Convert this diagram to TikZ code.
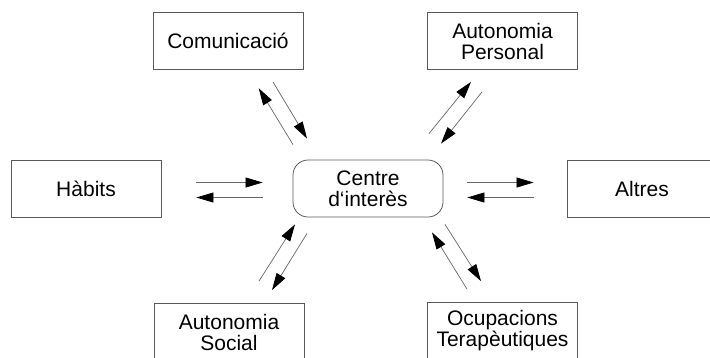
\documentclass[tikz,border=0pt]{standalone}
\usepackage{fontspec}
\setmainfont{Liberation Sans}
\usetikzlibrary{arrows.meta}

\begin{document}
\begin{tikzpicture}[x=1pt,y=-1pt,
    box/.style={draw=black!65,line width=0.8pt,minimum width=150pt,minimum height=57pt,
        align=center,inner sep=0pt,font=\fontsize{21}{21}\selectfont},
    centrebox/.style={box,rounded corners=15pt},
    flow/.style={draw=black!60,line width=0.7pt,-{Triangle[length=17pt,width=10pt,color=black]}}]
    \useasboundingbox (0,0) rectangle (710,357);
    \clip (0,0) rectangle (710,357);

    \node[box] (com) at (228,41) {Comunicació};
    \node[box] (per) at (502.5,41) {Autonomia\\Personal};
    \node[box] (hab) at (86,188.5) {Hàbits};
    \node[centrebox] (cen) at (368,188.5) {Centre\\d‘interès};
    \node[box] (alt) at (642,188.5) {Altres};
    \node[box] (soc) at (229,332) {Autonomia\\Social};
    \node[box] (ocu) at (502.5,331) {Ocupacions\\Terapèutiques};

    \draw[flow] ([shift={(35,-6)}]hab.east) -- ([shift={(-30,-6)}]cen.west);
    \draw[flow] ([shift={(-30,9)}]cen.west) -- ([shift={(35,9)}]hab.east);

    \draw[flow] ([shift={(24,-6)}]cen.east) -- ([shift={(-33,-6)}]alt.west);
    \draw[flow] ([shift={(-33,9)}]alt.west) -- ([shift={(24,9)}]cen.east);

    \draw[flow] ([shift={(-75,-15)}]cen.north) -- ([shift={(30.7,18.3)}]com.south);
    \draw[flow] ([shift={(45,12)}]com.south) -- ([shift={(-61,-21)}]cen.north);

    \draw[flow] ([shift={(61,-26)}]cen.north) -- ([shift={(-31.5,12)}]per.south);
    \draw[flow] ([shift={(-20.5,22)}]per.south) -- ([shift={(73,-16)}]cen.north);

    \draw[flow] ([shift={(30,-22)}]soc.north) -- ([shift={(-73,7)}]cen.south);
    \draw[flow] ([shift={(-61,16)}]cen.south) -- ([shift={(43,-13)}]soc.north);

    \draw[flow] ([shift={(-35.5,-13)}]ocu.north) -- ([shift={(64,15)}]cen.south);
    \draw[flow] ([shift={(77,7)}]cen.south) -- ([shift={(-21.5,-21)}]ocu.north);
\end{tikzpicture}
\end{document}
